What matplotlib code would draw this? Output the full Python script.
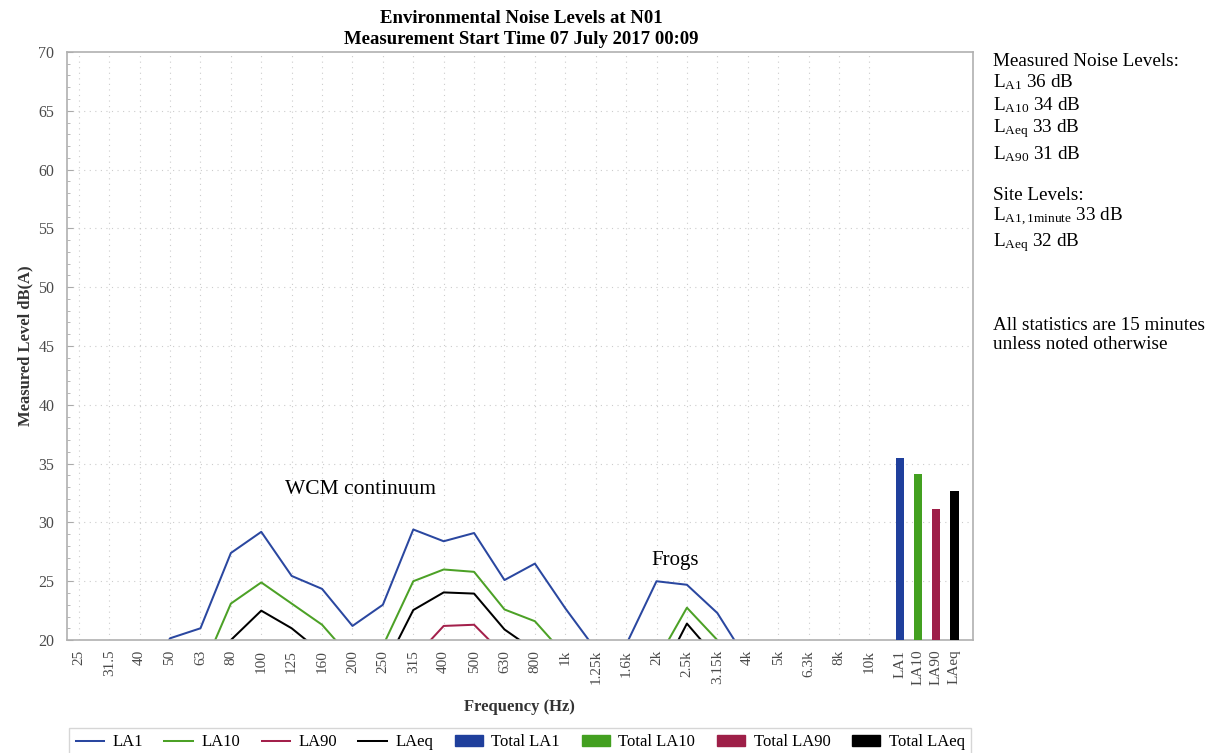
import numpy as np
import matplotlib
matplotlib.use("Agg")
import matplotlib.pyplot as plt
from matplotlib.patches import Patch
from matplotlib.lines import Line2D

# Data (values below 20 dB are hidden by the axis floor)
bands = ["25", "31.5", "40", "50", "63", "80", "100", "125", "160", "200",
         "250", "315", "400", "500", "630", "800", "1k", "1.25k", "1.6k", "2k",
         "2.5k", "3.15k", "4k", "5k", "6.3k", "8k", "10k"]
la1 = [14, 15, 16, 20.15, 21.0, 27.4, 29.2, 25.45, 24.35, 21.2,
       23.0, 29.4, 28.4, 29.1, 25.1, 26.5, 22.7, 19.2, 19.6, 25.0,
       24.7, 22.3, 18.2, 17, 16, 15, 14]
la10 = [12, 13, 14, 15, 17.1, 23.1, 24.9, 23.1, 21.3, 18.35,
        19.5, 25.0, 26.0, 25.8, 22.6, 21.6, 18.7, 17, 17, 18.2,
        22.75, 20.0, 16, 15, 14, 13, 12]
la90 = [8, 9, 10, 11, 12, 13, 14, 13, 12, 12,
        14, 18.4, 21.2, 21.3, 18.7, 15, 13, 12, 12, 13,
        14, 13, 11, 10, 9, 8, 8]
laeq = [10, 11, 12, 13, 15, 20.0, 22.5, 21.0, 18.9, 16,
        17.45, 22.55, 24.05, 23.95, 20.9, 19.1, 16, 15, 15, 16.4,
        21.4, 18.4, 15, 14, 13, 12, 11]

total_labels = ["LA1", "LA10", "LA90", "LAeq"]
total_values = [35.5, 34.1, 31.1, 32.7]

line_colors = ["#2a47a0", "#4ca126", "#a3204b", "#000000"]
bar_colors = ["#1f3f9c", "#43a020", "#9e1f48", "#000000"]

plt.rcParams["font.family"] = ["Liberation Serif", "DejaVu Serif"]
plt.rcParams["mathtext.fontset"] = "custom"
plt.rcParams["mathtext.rm"] = "Liberation Serif"
plt.rcParams["mathtext.it"] = "Liberation Serif:italic"

fig = plt.figure(figsize=(12.18, 7.53), dpi=100)
ax = fig.add_axes([0.055, 0.150, 0.7436, 0.781])

x = np.arange(len(bands))
series = [("LA1", la1), ("LA10", la10), ("LA90", la90), ("LAeq", laeq)]
for (name, vals), c in zip(series, line_colors):
    ax.plot(x, vals, color=c, lw=1.45, label=name)

bar_x = len(bands) + np.arange(len(total_values)) * 0.6
ax.bar(bar_x, total_values, width=0.27, color=bar_colors, zorder=3)

ax.set_xlim(-0.39, 29.4)
ax.set_ylim(20, 70)
ax.set_yticks(np.arange(20, 71, 5))
ax.set_yticks(np.arange(20, 71, 1), minor=True)
ax.set_xticks(list(x) + list(bar_x))
ax.set_xticklabels(bands + total_labels, rotation=90, va="top")
ax.tick_params(axis="x", length=0, labelsize=11, labelcolor="#4a4a4a", pad=7)
ax.tick_params(axis="y", which="major", direction="in", length=4,
               color="#aaaaaa", labelsize=11.5, labelcolor="#4a4a4a", pad=9)
ax.tick_params(axis="y", which="minor", direction="in", length=2, color="#aaaaaa")

for s in ax.spines.values():
    s.set_color("#b0b0b0")
    s.set_linewidth(1.2)

for xv in x:
    ax.axvline(xv, color="#cccccc", lw=0.8, ls=(0, (1, 4)), zorder=0)
for yv in range(25, 70, 5):
    ax.axhline(yv, color="#cccccc", lw=0.8, ls=(0, (1, 4)), zorder=0)

ax.text(9.28, 32.8, "WCM continuum", fontsize=15.5, ha="center", va="center")
ax.text(19.6, 26.8, "Frogs", fontsize=15, ha="center", va="center")

fig.text(0.428, 0.976, "Environmental Noise Levels at N01", ha="center",
         va="center", fontsize=13.5, fontweight="bold")
fig.text(0.428, 0.948, "Measurement Start Time 07 July 2017 00:09", ha="center",
         va="center", fontsize=13.5, fontweight="bold")
ax.set_xlabel("Frequency (Hz)", fontsize=12, fontweight="bold", color="#333333",
              labelpad=10)
ax.set_ylabel("Measured Level dB(A)", fontsize=12, fontweight="bold",
              color="#333333", labelpad=4)

info = [
    (61, "Measured Noise Levels:"),
    (82, r"L$_{\mathrm{A1}}$ 36 dB"),
    (105, r"L$_{\mathrm{A10}}$ 34 dB"),
    (129, r"L$_{\mathrm{Aeq}}$ 33 dB"),
    (154, r"L$_{\mathrm{A90}}$ 31 dB"),
    (196, "Site Levels:"),
    (217, r"L$_{\mathrm{A1,1minute}}$ 33 dB"),
    (243, r"L$_{\mathrm{Aeq}}$ 32 dB"),
    (325, "All statistics are 15 minutes"),
    (344, "unless noted otherwise"),
]
for ypix, txt in info:
    fig.text(993 / 1218, 1 - ypix / 753, txt, fontsize=13.8, ha="left",
             va="center")

handles = [Line2D([], [], color=c, lw=1.45) for c in line_colors]
handles += [Patch(color=c) for c in bar_colors]
labels = ["LA1", "LA10", "LA90", "LAeq"] + ["Total " + t for t in total_labels]
fig.legend(handles, labels, loc="center", bbox_to_anchor=(0.427, 0.014),
           ncol=8, frameon=True, fontsize=12, edgecolor="#cccccc",
           fancybox=False, handlelength=1.7, columnspacing=1.3,
           handletextpad=0.5, borderpad=0.4)

fig.savefig("out.png", dpi=100)
